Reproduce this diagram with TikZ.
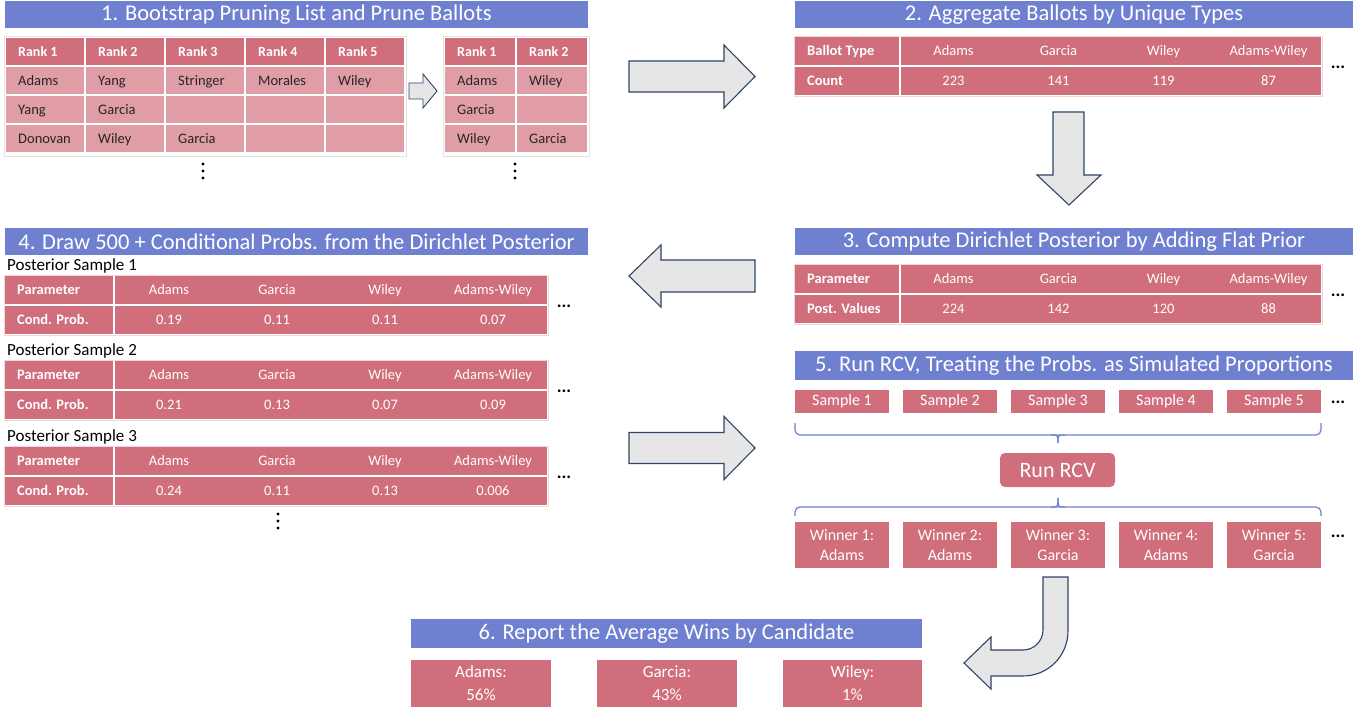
\documentclass[tikz,border=0pt]{standalone}
\usepackage{fontspec}
\setmainfont{Carlito}
\usetikzlibrary{calc}
\definecolor{tblue}{HTML}{7080D0}
\definecolor{dred}{HTML}{D06E7B}
\definecolor{lred}{HTML}{E19DA5}
\definecolor{afill}{HTML}{E6E6E6}
\definecolor{aline}{HTML}{2F4468}
\definecolor{gframe}{HTML}{E2E2E2}
\definecolor{pframe}{HTML}{F2D6DA}
\definecolor{btext}{HTML}{262626}
\newcommand{\fs}[1]{\fontsize{#1}{#1}\selectfont}
\tikzset{
  box/.style={inner sep=0pt, outer sep=0pt, anchor=north west},
  ttl/.style={box, fill=tblue, text=white, font=\fs{22.5}},
  cellr/.style={box, fill=dred},
  celll/.style={box, fill=lred},
  tt/.style={inner sep=0pt, text height=11pt, text depth=2pt},
  htxt/.style={tt, text=white, font=\bfseries\fs{14.5}},
  wtxt/.style={tt, text=white, font=\fs{14.5}},
  btxt/.style={tt, text=btext, font=\fs{14.5}, anchor=west},
  rhead/.style={tt, text=white, font=\bfseries\fs{14}, anchor=west},
  dots/.style={inner sep=0pt, font=\bfseries\fs{18}},
  vdot/.style={circle, fill=black, inner sep=0pt, minimum size=3.4pt},
  rbox/.style={box, fill=dred, text=white, align=center},
  blk/.style={fill=afill, draw=aline, line width=1.1pt, line join=miter},
  brc/.style={draw=tblue, line width=1.2pt},
  plabel/.style={inner sep=0pt, anchor=west, font=\fs{17}, text height=12pt, text depth=4pt}
}
% #1 prefix, #2 x, #3 y, #4 first col width, #5 data width, #6 label1, #7 label2, #8 header/value pairs
\newcommand{\rtab}[8]{%
  \draw[pframe, line width=0.8pt] (#2-1,#3-1) rectangle (#2+#4+#5+3,#3+59);
  \node[cellr, minimum width=#4pt, minimum height=28pt] (#1a) at (#2,#3) {};
  \node[cellr, minimum width=#4pt, minimum height=28pt] (#1b) at (#2,#3+30) {};
  \node[cellr, minimum width=#5pt, minimum height=28pt] (#1c) at (#2+#4+2,#3) {};
  \node[cellr, minimum width=#5pt, minimum height=28pt] (#1d) at (#2+#4+2,#3+30) {};
  \node[htxt, anchor=west] (#1at) at ($(#1a.west)+(12,0)$) {#6};
  \node[htxt, anchor=west] (#1bt) at ($(#1b.west)+(12,0)$) {#7};
  \foreach \h/\v [count=\k] in {#8} {
    \node[wtxt] (#1h\k) at ($(#1c.west)+(\k*#5/4-#5/8,0)$) {\h};
    \node[wtxt] (#1v\k) at ($(#1d.west)+(\k*#5/4-#5/8,0)$) {\v};
  }
  \node[dots] (#1dots) at (#2+#4+#5+19,#3+30) {...};
}
\begin{document}
\begin{tikzpicture}[x=1pt,y=-1pt]
\useasboundingbox (0,0) rectangle (1369,711);

% ---------- titles ----------
\node[ttl, minimum width=583pt, minimum height=27pt] (t1) at (5,1) {1. Bootstrap Pruning List and Prune Ballots};
\node[ttl, minimum width=558pt, minimum height=27pt] (t2) at (795,1) {2. Aggregate Ballots by Unique Types};
\node[ttl, minimum width=558pt, minimum height=27pt] (t3) at (795,228) {3. Compute Dirichlet Posterior by Adding Flat Prior};
\node[ttl, minimum width=583pt, minimum height=27pt] (t4) at (5,228) {4. Draw 500 + Conditional Probs. from the Dirichlet Posterior};
\node[ttl, minimum width=558pt, minimum height=29pt] (t5) at (795,351) {5. Run RCV, Treating the Probs. as Simulated Proportions};
\node[ttl, minimum width=511pt, minimum height=29pt] (t6) at (411,619) {6. Report the Average Wins by Candidate};

% ---------- table 1 ----------
\node[box, draw=gframe, line width=0.8pt, minimum width=402pt, minimum height=120pt] (tab1) at (4,36) {};
\foreach \c in {1,...,5}{
  \node[cellr, minimum width=78pt, minimum height=27.5pt] (a0\c) at (6+\c*80-80,38) {};
  \node[rhead] (a0\c t) at ($(a0\c.west)+(12,0)$) {Rank \c};
  \foreach \r in {1,2,3}{
    \node[celll, minimum width=78pt, minimum height=27.5pt] (a\r\c) at (6+\c*80-80,38+\r*29) {};
  }
}
\node[btxt] (a11t) at ($(a11.west)+(12,0)$) {Adams};
\node[btxt] (a12t) at ($(a12.west)+(12,0)$) {Yang};
\node[btxt] (a13t) at ($(a13.west)+(12,0)$) {Stringer};
\node[btxt] (a14t) at ($(a14.west)+(12,0)$) {Morales};
\node[btxt] (a15t) at ($(a15.west)+(12,0)$) {Wiley};
\node[btxt] (a21t) at ($(a21.west)+(12,0)$) {Yang};
\node[btxt] (a22t) at ($(a22.west)+(12,0)$) {Garcia};
\node[btxt] (a31t) at ($(a31.west)+(12,0)$) {Donovan};
\node[btxt] (a32t) at ($(a32.west)+(12,0)$) {Wiley};
\node[btxt] (a33t) at ($(a33.west)+(12,0)$) {Garcia};
\foreach \y [count=\i] in {164,171,178}{ \node[vdot] (va\i) at (203,\y) {}; }

% ---------- table 1b (pruned) ----------
\node[box, draw=gframe, line width=0.8pt, minimum width=146pt, minimum height=120pt] (tab1b) at (443,36) {};
\foreach \c in {1,2}{
  \node[cellr, minimum width=70pt, minimum height=27.5pt] (b0\c) at (445+\c*72-72,38) {};
  \node[rhead] (b0\c t) at ($(b0\c.west)+(12,0)$) {Rank \c};
  \foreach \r in {1,2,3}{
    \node[celll, minimum width=70pt, minimum height=27.5pt] (b\r\c) at (445+\c*72-72,38+\r*29) {};
  }
}
\node[btxt] (b11t) at ($(b11.west)+(12,0)$) {Adams};
\node[btxt] (b12t) at ($(b12.west)+(12,0)$) {Wiley};
\node[btxt] (b21t) at ($(b21.west)+(12,0)$) {Garcia};
\node[btxt] (b31t) at ($(b31.west)+(12,0)$) {Wiley};
\node[btxt] (b32t) at ($(b32.west)+(12,0)$) {Garcia};
\foreach \y [count=\i] in {164,171,178}{ \node[vdot] (vb\i) at (515,\y) {}; }

% small arrow table1 -> table1b
\draw[blk, line width=0.9pt] (409,83) -- (423,83) -- (423,74) -- (437,91) -- (423,108) -- (423,99) -- (409,99) -- cycle;

% ---------- table 2 ----------
\rtab{tb}{795}{37}{104}{420}{Ballot Type}{Count}{Adams/223,Garcia/141,Wiley/119,Adams-Wiley/87}
% ---------- table 3 ----------
\rtab{tc}{795}{265}{104}{420}{Parameter}{Post. Values}{Adams/224,Garcia/142,Wiley/120,Adams-Wiley/88}

% ---------- table 4 ----------
\node[plabel] (ps1) at (7,267) {Posterior Sample 1};
\rtab{pa}{5}{276}{108}{432}{Parameter}{Cond. Prob.}{Adams/0.19,Garcia/0.11,Wiley/0.11,Adams-Wiley/0.07}
\node[plabel] (ps2) at (7,352) {Posterior Sample 2};
\rtab{pb}{5}{361}{108}{432}{Parameter}{Cond. Prob.}{Adams/0.21,Garcia/0.13,Wiley/0.07,Adams-Wiley/0.09}
\node[plabel] (ps3) at (7,438) {Posterior Sample 3};
\rtab{pc}{5}{447}{108}{432}{Parameter}{Cond. Prob.}{Adams/0.24,Garcia/0.11,Wiley/0.13,Adams-Wiley/0.006}
\foreach \y [count=\i] in {514,521,528}{ \node[vdot] (vp\i) at (278,\y) {}; }

% ---------- step 5 ----------
\foreach \k in {1,...,5}{
  \node[rbox, font=\fs{16}, minimum width=94pt, minimum height=23pt] (s\k) at (795+\k*108-108,390) {Sample \k};
}
\node[dots] (sdots) at (1338,402) {...};
\draw[brc, rounded corners=5pt] (795,423) -- (795,435) -- (1321,435) -- (1321,423);
\draw[brc] (1051,435) .. controls (1058,435) .. (1058,443);
\draw[brc] (1065,435) .. controls (1058,435) .. (1058,443);
\node[box, fill=dred, text=white, font=\fs{22}, rounded corners=5pt, minimum width=115pt, minimum height=34pt] (rcv) at (1000,453) {Run RCV};
\draw[brc, rounded corners=5pt] (795,516) -- (795,507) -- (1321,507) -- (1321,516);
\draw[brc] (1051,507) .. controls (1058,507) .. (1058,498);
\draw[brc] (1065,507) .. controls (1058,507) .. (1058,498);
\foreach \k/\n in {1/Adams,2/Adams,3/Garcia,4/Adams,5/Garcia}{
  \node[rbox, font=\fontsize{16}{20}\selectfont, minimum width=94pt, minimum height=46pt] (w\k) at (795+\k*108-108,522) {Winner \k:\\\n};
}
\node[dots] (wdots) at (1338,536) {...};

% ---------- step 6 ----------
\node[rbox, font=\fontsize{17}{23}\selectfont, minimum width=140pt, minimum height=47pt] (r1) at (411,660) {Adams:\\56\%};
\node[rbox, font=\fontsize{17}{23}\selectfont, minimum width=140pt, minimum height=47pt] (r2) at (597,660) {Garcia:\\43\%};
\node[rbox, font=\fontsize{17}{23}\selectfont, minimum width=139pt, minimum height=47pt] (r3) at (783,660) {Wiley:\\1\%};

% ---------- block arrows ----------
\draw[blk] (629,61) -- (724,61) -- (724,45) -- (755,76.5) -- (724,108) -- (724,92) -- (629,92) -- cycle;
\draw[blk] (1053,112) -- (1084,112) -- (1084,175) -- (1101,175) -- (1069,205) -- (1037,175) -- (1053,175) -- cycle;
\draw[blk] (755,260) -- (661,260) -- (661,245) -- (629,276) -- (661,307) -- (661,292) -- (755,292) -- cycle;
\draw[blk] (629,432.5) -- (724,432.5) -- (724,416.5) -- (755,448) -- (724,479.5) -- (724,463.5) -- (629,463.5) -- cycle;
\draw[blk] (1043,577) -- (1068,577) -- (1068,631) .. controls (1068,656) and (1048,676) .. (1023,676) -- (991,676) -- (991,689) -- (964,663) -- (991,637) -- (991,650) -- (1023,650) .. controls (1034,650) and (1043,641) .. (1043,630) -- cycle;
\end{tikzpicture}
\end{document}
